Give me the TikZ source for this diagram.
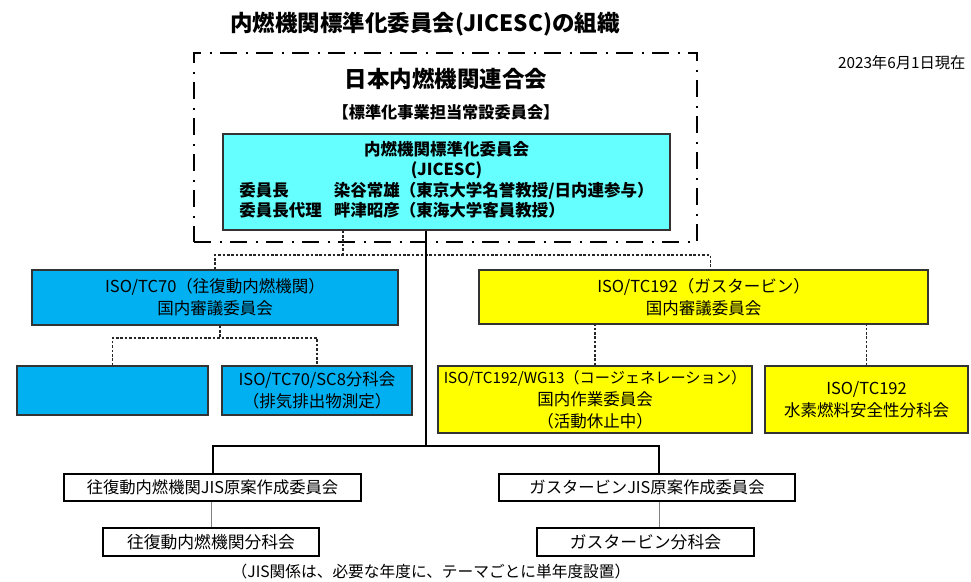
\documentclass[tikz,border=0pt]{standalone}
\usepackage{fontspec}
\setmainfont{Noto Sans CJK JP}

\definecolor{jicesccyan}{HTML}{66FFFF}
\definecolor{tcblue}{HTML}{00B0F0}
\definecolor{tcyellow}{HTML}{FFFF00}
\definecolor{boxedge}{HTML}{333333}

\tikzset{
    orgbox/.style={draw=boxedge, line width=1.3pt, align=center, inner sep=0pt, font=\fontsize{16.5}{22}\selectfont},
    jisbox/.style={draw=black, line width=1.1pt, fill=white, align=center, inner sep=0pt, font=\fontsize{16.3}{20}\selectfont},
    dotline/.style={draw=black!85, line width=1.8pt, dash pattern=on 2.6pt off 1.8pt},
    mainline/.style={draw=black, line width=2pt},
    subline/.style={draw=gray, line width=0.8pt},
    frameline/.style={draw=black, line width=2pt, dash pattern=on 17pt off 8.5pt on 2pt off 8.5pt}
}

\begin{document}
\begin{tikzpicture}[x=1pt, y=-1pt]
    \useasboundingbox[fill=white] (0, 0) rectangle (971, 581);

    \node[font=\bfseries\fontsize{22.5}{26}\selectfont] (title) at (425, 24) {内燃機関標準化委員会(JICESC)の組織};
    \node[anchor=east, font=\fontsize{15.3}{18}\selectfont] (date) at (969, 63) {2023年6月1日現在};

    \node[frameline, minimum width=503pt, minimum height=189pt] (renkei) at (445.5, 147.5) {};
    \node[font=\bfseries\fontsize{22.5}{26}\selectfont] (renkeiname) at (446, 79) {日本内燃機関連合会};
    \node[font=\bfseries\fontsize{16.2}{20}\selectfont] (jousetsu) at (446, 112) {【標準化事業担当常設委員会】};

    \node[orgbox, fill=jicesccyan, minimum width=447pt, minimum height=96pt, font=\bfseries\fontsize{16.5}{20.5}\selectfont] (jicesc) at (446.5, 182) {\begin{tabular}{@{}l@{\hspace{12pt}}l@{}}
        \multicolumn{2}{c}{内燃機関標準化委員会}\\
        \multicolumn{2}{c}{(JICESC)}\\
        委員長 & 染谷常雄（東京大学名誉教授/日内連参与）\\
        委員長代理 & 畔津昭彦（東海大学客員教授）
    \end{tabular}};

    \node[orgbox, fill=tcblue, minimum width=366pt, minimum height=55pt] (tcseventy) at (215, 297.5) {ISO/TC70（往復動内燃機関）\\国内審議委員会};
    \node[orgbox, fill=tcblue, minimum width=191pt, minimum height=49pt] (tcblank) at (112.5, 390.5) {};
    \node[orgbox, fill=tcblue, minimum width=190pt, minimum height=49pt] (sceight) at (317, 390.5) {ISO/TC70/SC8分科会\\（排気排出物測定）};

    \node[orgbox, fill=tcyellow, minimum width=449pt, minimum height=54pt] (tcgasturb) at (703.5, 297) {ISO/TC192（ガスタービン）\\国内審議委員会};
    \node[orgbox, fill=tcyellow, minimum width=314pt, minimum height=67pt] (wgcogen) at (595, 399.5) {{\fontsize{15.2}{22}\selectfont ISO/TC192/WG13（コージェネレーション）}\\国内作業委員会\\（活動休止中）};
    \node[orgbox, fill=tcyellow, minimum width=203pt, minimum height=67pt] (hydrogen) at (866.5, 399.5) {ISO/TC192\\水素燃料安全性分科会};

    \node[jisbox, minimum width=297pt, minimum height=27pt] (jisrecip) at (212.5, 487.5) {往復動内燃機関JIS原案作成委員会};
    \node[jisbox, minimum width=296pt, minimum height=27pt] (jisgt) at (647, 487.5) {ガスタービンJIS原案作成委員会};
    \node[jisbox, minimum width=216pt, minimum height=28pt, font=\fontsize{16.8}{20}\selectfont] (subrecip) at (211, 542) {往復動内燃機関分科会};
    \node[jisbox, minimum width=217pt, minimum height=28pt, font=\fontsize{16.8}{20}\selectfont] (subgt) at (645.5, 542) {ガスタービン分科会};

    \node[font=\fontsize{15.7}{18}\selectfont] (jisnote) at (431, 572) {（JIS関係は、必要な年度に、テーマごとに単年度設置）};

    \coordinate (tcsplit) at (343, 255);
    \coordinate (seventysplit) at (220, 338);
    \coordinate (jissplit) at (426, 446);

    \draw[dotline] (tcsplit |- jicesc.south) -- (tcsplit);
    \draw[dotline] (tcseventy.north) |- (tcsplit) -| ([xshift=7pt]tcgasturb.north);
    \draw[dotline] (seventysplit |- tcseventy.south) -- (seventysplit);
    \draw[dotline] (tcblank.north) |- (seventysplit) -| (sceight.north);
    \draw[dotline] (wgcogen.north) -- (wgcogen.north |- tcgasturb.south);
    \draw[dotline] (hydrogen.north) -- (hydrogen.north |- tcgasturb.south);

    \draw[mainline] (jissplit |- jicesc.south) -- (jissplit);
    \draw[mainline] (jisrecip.north) |- (jissplit) -| ([xshift=12pt]jisgt.north);
    \draw[subline] (subrecip.north) -- (subrecip.north |- jisrecip.south);
    \draw[subline] ([xshift=12pt]jisgt.south) -- ([xshift=12pt]jisgt.south |- subgt.north);

\end{tikzpicture}
\end{document}
